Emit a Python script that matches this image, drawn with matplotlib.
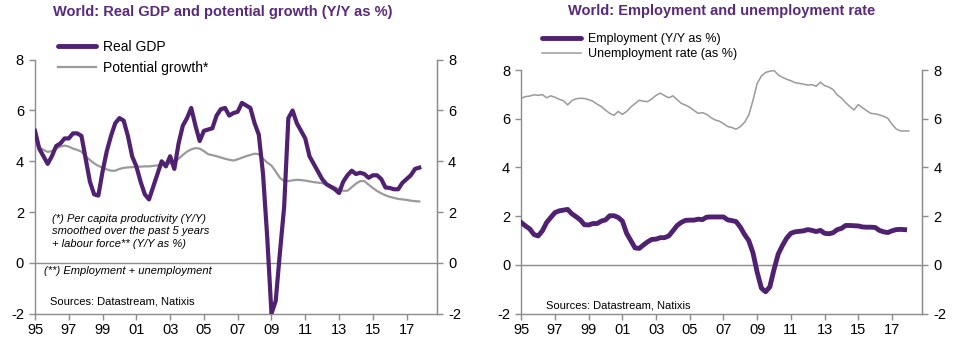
import numpy as np
import matplotlib
matplotlib.use("Agg")
import matplotlib.pyplot as plt
from matplotlib.lines import Line2D

plt.rcParams['font.family'] = ['Liberation Sans', 'DejaVu Sans']
plt.rcParams['axes.unicode_minus'] = False

# ---------------- data ----------------
start_year = 1995.0
gdp = [5.2, 4.5, 4.2, 3.9, 4.2, 4.6, 4.7, 4.9, 4.9, 5.1, 5.1, 5.0,
       4.1, 3.2, 2.7, 2.65, 3.6, 4.4, 5.0, 5.5, 5.7, 5.6, 5.0, 4.2,
       3.8, 3.2, 2.7, 2.5, 3.0, 3.5, 4.0, 3.8, 4.2, 3.7, 4.7, 5.4,
       5.7, 6.1, 5.4, 4.8, 5.2, 5.25, 5.3, 5.8, 6.05, 6.1, 5.8, 5.9,
       5.95, 6.3, 6.2, 6.1, 5.5, 5.05, 3.5, 1.0, -2.0, -1.5, 0.4, 2.2,
       5.7, 6.0, 5.5, 5.2, 4.9, 4.2, 3.9, 3.6, 3.3, 3.1, 3.0, 2.9,
       2.75, 3.2, 3.45, 3.63, 3.5, 3.55, 3.5, 3.35, 3.45, 3.45, 3.3, 2.97,
       2.95, 2.9, 2.9, 3.15, 3.3, 3.45, 3.7, 3.75]
potential = [4.7, 4.55, 4.45, 4.37, 4.4, 4.5, 4.58, 4.62, 4.58, 4.5, 4.45, 4.38,
             4.2, 4.05, 3.92, 3.82, 3.75, 3.68, 3.63, 3.63, 3.7, 3.74, 3.76, 3.77,
             3.78, 3.79, 3.8, 3.8, 3.82, 3.84, 3.88, 3.9, 3.92, 3.96, 4.1, 4.25,
             4.38, 4.47, 4.52, 4.5, 4.4, 4.28, 4.24, 4.2, 4.15, 4.1, 4.06, 4.03,
             4.08, 4.14, 4.2, 4.25, 4.3, 4.28, 4.1, 3.95, 3.83, 3.6, 3.35, 3.22,
             3.22, 3.25, 3.27, 3.26, 3.24, 3.21, 3.18, 3.16, 3.14, 3.1, 3.05, 2.98,
             2.9, 2.84, 2.84, 2.98, 3.12, 3.22, 3.22, 3.08, 2.95, 2.83, 2.74, 2.66,
             2.6, 2.56, 2.52, 2.5, 2.48, 2.45, 2.43, 2.42]
employment = [1.74, 1.60, 1.48, 1.25, 1.19, 1.40, 1.74, 1.95, 2.15, 2.22, 2.25, 2.28,
              2.10, 1.98, 1.85, 1.65, 1.64, 1.70, 1.70, 1.80, 1.85, 2.02, 2.02, 1.95,
              1.80, 1.30, 1.00, 0.70, 0.68, 0.82, 0.95, 1.05, 1.06, 1.12, 1.12, 1.19,
              1.40, 1.62, 1.75, 1.83, 1.84, 1.84, 1.88, 1.86, 1.96, 1.97, 1.97, 1.97,
              1.97, 1.85, 1.82, 1.78, 1.55, 1.25, 1.00, 0.50, -0.30, -0.95, -1.10, -0.90,
              -0.18, 0.45, 0.80, 1.10, 1.30, 1.36, 1.38, 1.40, 1.45, 1.42, 1.37, 1.42,
              1.30, 1.28, 1.32, 1.45, 1.50, 1.62, 1.62, 1.61, 1.60, 1.56, 1.55, 1.55,
              1.54, 1.42, 1.36, 1.33, 1.40, 1.45, 1.46, 1.45]
unemployment = [6.84, 6.91, 6.93, 6.98, 6.96, 6.99, 6.86, 6.94, 6.88, 6.80, 6.74, 6.57,
                6.74, 6.82, 6.84, 6.83, 6.78, 6.72, 6.60, 6.50, 6.35, 6.22, 6.14, 6.30,
                6.18, 6.30, 6.48, 6.62, 6.76, 6.72, 6.70, 6.82, 6.96, 7.05, 6.95, 6.86,
                6.94, 6.78, 6.63, 6.56, 6.47, 6.34, 6.22, 6.25, 6.18, 6.05, 5.95, 5.90,
                5.80, 5.68, 5.64, 5.57, 5.68, 5.85, 6.15, 6.75, 7.45, 7.75, 7.90, 7.95,
                7.98, 7.80, 7.70, 7.62, 7.56, 7.48, 7.45, 7.42, 7.38, 7.40, 7.33, 7.50,
                7.36, 7.30, 7.20, 6.98, 6.85, 6.66, 6.50, 6.36, 6.58, 6.45, 6.33, 6.22,
                6.20, 6.16, 6.10, 6.02, 5.78, 5.58, 5.50, 5.50, 5.50]
tick_years = list(range(1995, 2018, 2))
tick_labels = ["95", "97", "99", "01", "03", "05", "07", "09", "11", "13", "15", "17"]
y_ticks = [-2, 0, 2, 4, 6, 8]

t_gdp = start_year + np.arange(len(gdp)) / 4
t_pot = start_year + np.arange(len(potential)) / 4
t_emp = start_year + np.arange(len(employment)) / 4
t_unemp = start_year + np.arange(len(unemployment)) / 4

# ---------------- style ----------------
PURPLE = '#4F2170'
GREY = '#9A9A9A'
SPINE = '#8C8C8C'
W, H = 958, 342

def fx(px):
    return px / W

def fy(py):
    return 1 - py / H

fig = plt.figure(figsize=(W / 100, H / 100), dpi=100)
fig.patch.set_facecolor('white')

def style_axes(ax):
    ax.set_xlim(1995, 2018.8)
    ax.set_ylim(-2, 8)
    ax.set_yticks(y_ticks)
    ax.set_xticks(tick_years)
    ax.set_xticklabels(tick_labels)
    for s in ['left', 'right', 'bottom']:
        ax.spines[s].set_color(SPINE)
        ax.spines[s].set_linewidth(1.0)
    ax.spines['top'].set_visible(False)
    ax.tick_params(axis='both', colors=SPINE, labelcolor='black', labelsize=10.5,
                   length=4, width=1, direction='out')
    ax.tick_params(axis='x', pad=3)
    ax.tick_params(axis='y', pad=4)
    ax.axhline(0, color=SPINE, lw=1.0, zorder=1)
    axr = ax.twinx()
    axr.set_ylim(-2, 8)
    axr.set_yticks(y_ticks)
    axr.spines['top'].set_visible(False)
    axr.spines['left'].set_visible(False)
    axr.spines['bottom'].set_visible(False)
    axr.spines['right'].set_color(SPINE)
    axr.tick_params(axis='y', colors=SPINE, labelcolor='black', labelsize=10.5,
                    length=4, width=1, direction='out', pad=4)
    return axr

# ---------------- left panel ----------------
axL = fig.add_axes([fx(35), fy(313.7), fx(437 - 35), (313.7 - 59.7) / H])
style_axes(axL)
axL.plot(t_pot, potential, color=GREY, lw=1.6, zorder=2)
axL.plot(t_gdp, gdp, color=PURPLE, lw=3.0, zorder=3, solid_joinstyle='round')

fig.text(fx(223), fy(12), "World: Real GDP and potential growth (Y/Y as %)",
         ha='center', va='center', fontsize=10.5, fontweight='bold', color='#5A2A7A')

handlesL = [Line2D([], [], color=PURPLE, lw=3.5, solid_capstyle='round'),
            Line2D([], [], color=GREY, lw=1.6)]
fig.legend(handlesL, ["Real GDP", "Potential growth*"], loc='upper left',
           bbox_to_anchor=(fx(58), fy(40)), frameon=False, fontsize=10,
           handlelength=2.7, handletextpad=0.55, labelspacing=0.5, borderpad=0,
           borderaxespad=0)

fig.text(fx(52), fy(219), "(*) Per capita productivity (Y/Y)", fontsize=8,
         style='italic', va='center', ha='left')
fig.text(fx(52), fy(231.5), "smoothed over the past 5 years", fontsize=8,
         style='italic', va='center', ha='left')
fig.text(fx(52), fy(244), "+ labour force** (Y/Y as %)", fontsize=8,
         style='italic', va='center', ha='left')
fig.text(fx(43.5), fy(271), "(**) Employment + unemployment", fontsize=8,
         style='italic', va='center', ha='left')
fig.text(fx(49.5), fy(302), "Sources: Datastream, Natixis", fontsize=8,
         va='center', ha='left')

# ---------------- right panel ----------------
axR = fig.add_axes([fx(521.3), fy(313.7), fx(922.3 - 521.3), (313.7 - 70) / H])
style_axes(axR)
axR.plot(t_unemp, unemployment, color=GREY, lw=1.1, zorder=2)
axR.plot(t_emp, employment, color=PURPLE, lw=3.5, zorder=3, solid_joinstyle='round')

fig.text(fx(722), fy(11), "World: Employment and unemployment rate",
         ha='center', va='center', fontsize=10.5, fontweight='bold', color='#5A2A7A')

handlesR = [Line2D([], [], color=PURPLE, lw=3.5, solid_capstyle='round'),
            Line2D([], [], color=GREY, lw=1.1)]
fig.legend(handlesR, ["Employment (Y/Y as %)", "Unemployment rate (as %)"],
           loc='upper left', bbox_to_anchor=(fx(542), fy(33)), frameon=False,
           fontsize=9, handlelength=3.1, handletextpad=0.6, labelspacing=0.25,
           borderpad=0, borderaxespad=0)

fig.text(fx(546), fy(305), "Sources: Datastream, Natixis", fontsize=8,
         va='center', ha='left')

fig.savefig("out.png", dpi=100, facecolor='white')
